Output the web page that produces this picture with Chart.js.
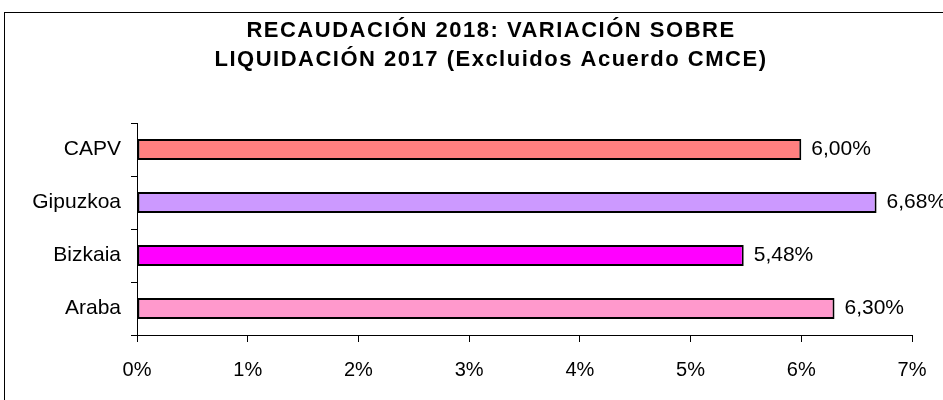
<!DOCTYPE html>
<html>
<head>
<meta charset="utf-8">
<script src="https://cdn.jsdelivr.net/npm/chart.js@4/dist/chart.umd.min.js"></script>
<style>
  html, body { margin: 0; padding: 0; background: #fff; overflow: hidden; }
  #box {
    position: absolute; left: 4px; top: 12px;
    width: 972px; height: 420px;
    border: 1px solid #000;
  }
</style>
</head>
<body>
<div id="box"><canvas id="chart" width="972" height="420"></canvas></div>
<script>
const labels = ["CAPV", "Gipuzkoa", "Bizkaia", "Araba"];
const values = [6.00, 6.68, 5.48, 6.30];
const barColors = ["#ff8080", "#cc99ff", "#ff00ff", "#ff99cc"];
const xTicks = [0, 1, 2, 3, 4, 5, 6, 7];
const titleLines = ["RECAUDACIÓN 2018: VARIACIÓN SOBRE", "LIQUIDACIÓN 2017 (Excluidos Acuerdo CMCE)"];

const font = "'Liberation Sans', Arial, sans-serif";

// title drawn by hand so it can get the wide letter spacing of the original
const wideTitle = {
    id: "wideTitle",
    afterDraw(chart) {
        const ctx = chart.ctx;
        ctx.save();
        ctx.font = "bold 22px " + font;
        ctx.fillStyle = "#000";
        ctx.textAlign = "center";
        ctx.textBaseline = "middle";
        if ("letterSpacing" in ctx) ctx.letterSpacing = "1.5px";
        titleLines.forEach(function (line, i) {
            ctx.fillText(line, chart.width / 2, 18 + i * 29);
        });
        ctx.restore();
    }
};

// value labels next to each bar
const valueLabels = {
    id: "valueLabels",
    afterDatasetsDraw(chart) {
        const ctx = chart.ctx;
        const meta = chart.getDatasetMeta(0);
        ctx.save();
        ctx.font = "21px " + font;
        ctx.fillStyle = "#000";
        ctx.textBaseline = "middle";
        meta.data.forEach(function (bar, i) {
            const txt = values[i].toFixed(2).replace(".", ",") + "%";
            ctx.fillText(txt, bar.x + 10, bar.y);
        });
        ctx.restore();
    }
};

new Chart(document.getElementById("chart"), {
    type: "bar",
    data: {
        labels: labels,
        datasets: [{
            data: values,
            backgroundColor: barColors,
            borderColor: "#000",
            borderWidth: 2,
            borderSkipped: false,
            barPercentage: 0.4,
            categoryPercentage: 1
        }]
    },
    options: {
        indexAxis: "y",
        responsive: false,
        animation: false,
        layout: { padding: { left: 0, right: 65, top: 110, bottom: 38 } },
        plugins: {
            legend: { display: false },
            tooltip: { enabled: false },
            title: { display: false }
        },
        scales: {
            x: {
                min: 0,
                max: 7,
                afterBuildTicks(scale) {
                    scale.ticks = xTicks.map(v => ({ value: v }));
                },
                afterFit(scale) { scale.height = 60; },
                border: { display: true, color: "#000", width: 1 },
                grid: { drawOnChartArea: false, drawTicks: true, tickLength: 7, color: "#000" },
                ticks: {
                    color: "#000",
                    padding: 16,
                    font: { family: font, size: 20 },
                    callback: v => v + "%"
                }
            },
            y: {
                afterFit(scale) { scale.width = 132; },
                border: { display: true, color: "#000", width: 1 },
                grid: { offset: true, drawOnChartArea: false, drawTicks: true, tickLength: 6, color: "#000" },
                ticks: {
                    color: "#000",
                    padding: 10,
                    font: { family: font, size: 21 }
                }
            }
        }
    },
    plugins: [valueLabels, wideTitle]
});
</script>
</body>
</html>
